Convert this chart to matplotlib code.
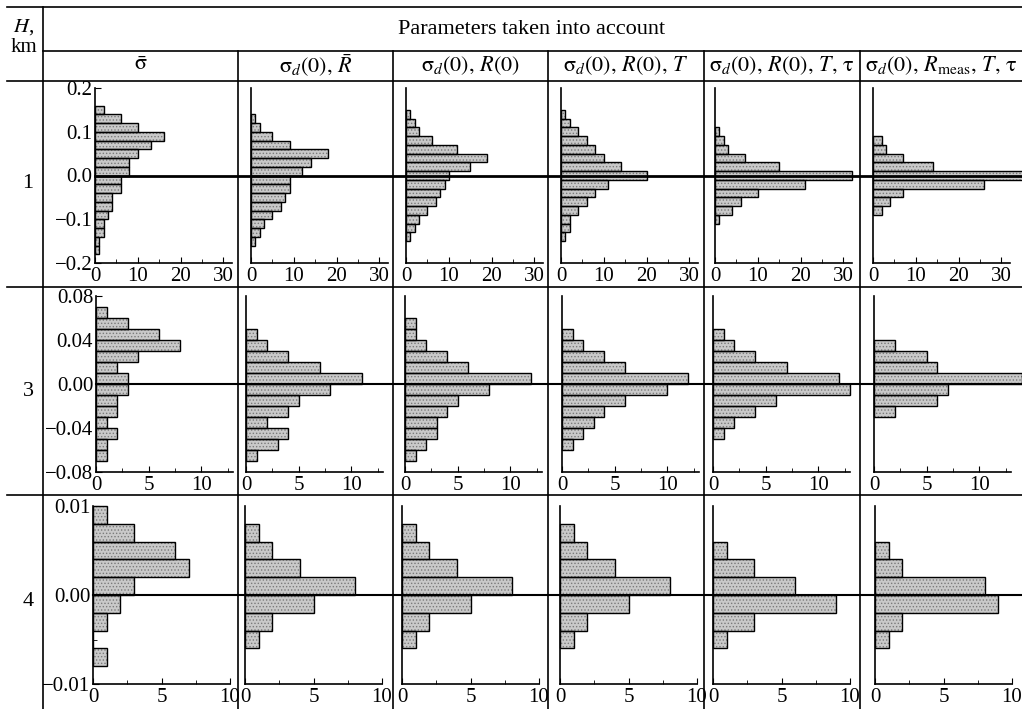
import matplotlib
matplotlib.use('Agg')
import matplotlib.pyplot as plt
import numpy as np
from matplotlib.lines import Line2D
from matplotlib.transforms import blended_transform_factory

plt.rcParams['font.family'] = ['Liberation Serif', 'DejaVu Serif']
plt.rcParams['mathtext.fontset'] = 'stix'
plt.rcParams['hatch.linewidth'] = 0.6

# ---- data: histogram counts (top bin first), top edge of the first bin ----
heights_km = ['1', '3', '4']
bin_width = [0.02, 0.01, 0.002]

row1_counts = [
    [2, 6, 10, 16, 13, 10, 8, 8, 6, 6, 4, 4, 3, 2, 2, 1, 1],
    [1, 2, 5, 9, 18, 14, 12, 9, 9, 8, 7, 5, 3, 2, 1],
    [1, 2, 3, 6, 12, 19, 15, 10, 9, 8, 7, 5, 3, 2, 1],
    [1, 2, 4, 6, 8, 10, 14, 20, 11, 8, 6, 4, 2, 2, 1],
    [1, 2, 3, 7, 15, 32, 21, 10, 6, 4, 1],
    [2, 3, 7, 14, 36, 26, 7, 4, 2],
]
row1_tops = [0.16, 0.14, 0.15, 0.15, 0.11, 0.09]

row2_counts = [
    [1, 3, 6, 8, 4, 2, 3, 3, 2, 2, 1, 2, 1, 1],
    [1, 2, 4, 7, 11, 8, 5, 4, 2, 4, 3, 1],
    [1, 1, 2, 4, 6, 12, 8, 5, 4, 3, 3, 2, 1],
    [1, 2, 4, 6, 12, 10, 6, 4, 3, 2, 1],
    [1, 2, 4, 7, 12, 13, 6, 4, 2, 1],
    [2, 5, 6, 14, 7, 6, 2],
]
row2_tops = [0.07, 0.05, 0.06, 0.05, 0.05, 0.04]

row3_counts = [
    [1, 3, 6, 7, 3, 2, 1, 0, 1],
    [1, 2, 4, 8, 5, 2, 1],
    [1, 2, 4, 8, 5, 2, 1],
    [1, 2, 4, 8, 5, 2, 1],
    [1, 3, 6, 9, 3, 1],
    [1, 2, 8, 9, 2, 1],
]
row3_tops = [0.010, 0.008, 0.008, 0.008, 0.006, 0.006]

col_headers = [
    r'$\bar{\mathrm{σ}}$',
    r'$\mathrm{σ}_d(0),\, \bar{R}$',
    r'$\mathrm{σ}_d(0),\, R(0)$',
    r'$\mathrm{σ}_d(0),\, R(0),\, T$',
    r'$\mathrm{σ}_d(0),\, R(0),\, T,\, \mathrm{τ}$',
    r'$\mathrm{σ}_d(0),\, R_{\mathrm{meas}},\, T,\, \mathrm{τ}$',
]

y_ticks = [[-0.2, -0.1, 0.0, 0.1, 0.2], [-0.08, -0.04, 0.0, 0.04, 0.08], [-0.01, 0.0, 0.01]]
y_ticklabels = [['−0.2', '−0.1', '0.0', '0.1', '0.2'],
                ['−0.08', '−0.04', '0.00', '0.04', '0.08'],
                ['−0.01', '0.00', '0.01']]
y_minor = [[-0.15, -0.05, 0.05, 0.15], [-0.06, -0.02, 0.02, 0.06], [-0.005, 0.005]]
x_ticks = [[0, 10, 20, 30], [0, 5, 10], [0, 5, 10]]
x_minor = [[5, 15, 25], [2.5, 7.5, 12.5], [2.5, 7.5]]
x_max = [32, 13, 10]

all_counts = [row1_counts, row2_counts, row3_counts]
all_tops = [row1_tops, row2_tops, row3_tops]

# ---- layout (pixels) ----
W, H = 1022, 709
fig = plt.figure(figsize=(W / 100, H / 100), dpi=100)

row_top = [88, 296, 506]
row_bot = [263, 472, 684]
panel_left = [
    [95, 251, 406, 561, 715, 873],
    [96, 246, 405, 562, 713, 874],
    [93, 245, 402, 560, 713, 875],
]
panel_w = 137
col_edges = [43, 238, 393, 548, 704, 860, 1022]
row_edges = [81, 287, 495, 709]


def fx(x):
    return x / W


def fy(y):
    return 1 - y / H


def hline(y, x0, x1, lw=1.2):
    fig.add_artist(Line2D([fx(x0), fx(x1)], [fy(y), fy(y)], color='black', lw=lw,
                          transform=fig.transFigure))


def vline(x, y0, y1, lw=1.2):
    fig.add_artist(Line2D([fx(x), fx(x)], [fy(y0), fy(y1)], color='black', lw=lw,
                          transform=fig.transFigure))


# table grid
hline(7, 7, W)
hline(51, 43, W)
hline(81, 7, W)
hline(287, 7, W)
hline(495, 7, W)
vline(43, 7, H)
for x in col_edges[1:-1]:
    vline(x, 51, H)

fig.text(fx(532), fy(29), 'Parameters taken into account', ha='center', va='center', fontsize=16)
fig.text(fx(24), fy(27), '$H$,', ha='center', va='center', fontsize=15)
fig.text(fx(24), fy(47), 'km', ha='center', va='center', fontsize=15)
for i, lab in enumerate(col_headers):
    if i < 4:
        fig.text(fx((col_edges[i] + col_edges[i + 1]) / 2), fy(66), lab, ha='center', va='center', fontsize=16)
    else:
        fig.text(fx(col_edges[i] + 5), fy(66), lab, ha='left', va='center', fontsize=16)

for r in range(3):
    fig.text(fx(28), fy((row_edges[r] + row_edges[r + 1]) / 2), heights_km[r],
             ha='center', va='center', fontsize=16)
    yl = y_ticks[r][-1]
    for c in range(6):
        left = panel_left[r][c]
        ax = fig.add_axes([fx(left), fy(row_bot[r]), panel_w / W, (row_bot[r] - row_top[r]) / H])
        counts = np.array(all_counts[r][c])
        centers = all_tops[r][c] - bin_width[r] * (np.arange(len(counts)) + 0.5)
        # stippled fill, then outline
        ax.barh(centers, counts, height=bin_width[r], color='#c9c9c9', edgecolor='#7a7a7a',
                hatch='.....', linewidth=0, clip_on=False, zorder=2)
        ax.barh(centers, counts, height=bin_width[r], fill=False, edgecolor='black',
                linewidth=1.0, clip_on=False, zorder=3)
        ax.set_xlim(0, x_max[r])
        ax.set_ylim(-yl, yl)
        for s in ['top', 'right']:
            ax.spines[s].set_visible(False)
        for s in ['left', 'bottom']:
            ax.spines[s].set_linewidth(1.2)
        ax.set_xticks(x_ticks[r])
        ax.set_xticks(x_minor[r], minor=True)
        ax.tick_params(axis='x', which='both', direction='in', labelsize=15, pad=3)
        ax.tick_params(axis='x', which='major', length=4)
        ax.tick_params(axis='x', which='minor', length=3)
        if c == 0:
            ax.set_yticks(y_ticks[r])
            ax.set_yticklabels(y_ticklabels[r])
            ax.set_yticks(y_minor[r], minor=True)
            ax.tick_params(axis='y', which='both', direction='in', labelsize=15, pad=2)
            ax.tick_params(axis='y', which='major', length=4)
            ax.tick_params(axis='y', which='minor', length=3)
            zero_lw = 2.0 if r == 0 else 1.5
            tr = blended_transform_factory(fig.transFigure, ax.transData)
            fig.add_artist(Line2D([fx(left), 1.0], [0, 0], color='black', lw=zero_lw,
                                  transform=tr, zorder=5))
        else:
            ax.set_yticks([])
        ax.patch.set_alpha(0)

fig.savefig('out.png', dpi=100)
